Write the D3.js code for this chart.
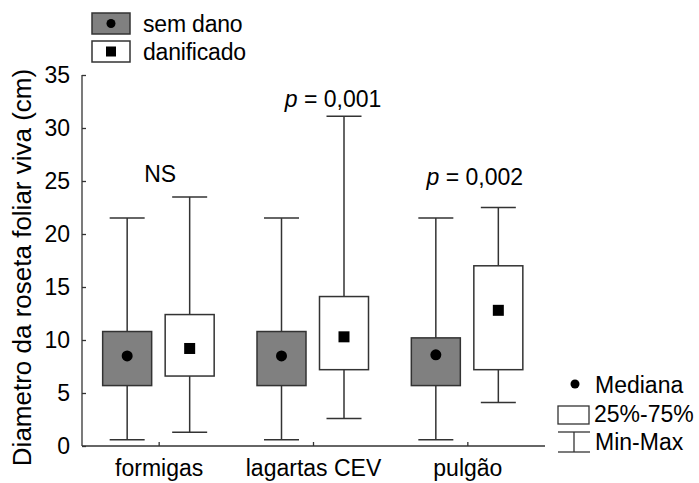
<!DOCTYPE html>
<html>
<head>
<meta charset="utf-8">
<script src="https://cdn.jsdelivr.net/npm/d3@7"></script>
<style>
  html, body { margin: 0; padding: 0; background: #fff; }
  svg { display: block; font-family: "Liberation Sans", Arial, sans-serif; }
</style>
</head>
<body>
<svg id="chart" width="699" height="483"></svg>
<script>
// Categories and groups
const categories = ["formigas", "lagartas CEV", "pulgão"];
const groups = ["sem dano", "danificado"];

// Box statistics per category: [min, q1, median, q3, max]
const semDano = [
  [0.6, 5.7, 8.5, 10.8, 21.5],
  [0.6, 5.7, 8.5, 10.8, 21.5],
  [0.6, 5.7, 8.6, 10.2, 21.5]
];
const danificado = [
  [1.3, 6.6, 9.2, 12.4, 23.5],
  [2.6, 7.2, 10.3, 14.1, 31.1],
  [4.1, 7.2, 12.8, 17.0, 22.5]
];

// Significance labels above each pair
const pValues = ["NS", "0,001", "0,002"];
const pLevels = [24.9, 32.0, 24.6];

const yTicks = [0, 5, 10, 15, 20, 25, 30, 35];

const svg = d3.select("#chart");
const margin = { left: 82, right: 154, top: 75, bottom: 37 };
const W = 699, H = 483;

const x = d3.scaleBand().domain(categories).range([margin.left, W - margin.right]);
const y = d3.scaleLinear().domain([0, 35]).range([H - margin.bottom, margin.top]);

const fontSize = 23;
const lineCol = "#333";
const center = c => x(c) + x.bandwidth() / 2;

// Axes
const yAxis = d3.axisLeft(y).tickValues(yTicks).tickSize(-4).tickPadding(12);
const gy = svg.append("g").attr("transform", `translate(${margin.left},0)`).call(yAxis);
gy.select(".domain").attr("d", `M0,${y(35)}V${y(0)}`);
const xAxis = d3.axisBottom(x).tickSize(-4).tickPadding(13.5);
const gx = svg.append("g").attr("transform", `translate(0,${y(0)})`).call(xAxis);
gx.select(".domain").attr("d", `M${margin.left},0H${W - margin.right}`);
svg.selectAll(".domain, .tick line").attr("stroke", lineCol).attr("stroke-width", 1.3);
svg.selectAll(".tick text").attr("font-size", fontSize).attr("font-family", "Liberation Sans, Arial, sans-serif").attr("fill", "#000");

// Y axis title
svg.append("text")
  .attr("transform", `translate(31,${(y(0) + y(35)) / 2 + 7}) rotate(-90)`)
  .attr("text-anchor", "middle")
  .attr("font-size", 26)
  .text("Diametro da roseta foliar viva (cm)");

// Boxes
const boxW = 49, capW = 35;
const offsets = [-32, 30.5];
const fills = ["#808080", "#fff"];
[semDano, danificado].forEach((series, gi) => {
  series.forEach((s, ci) => {
    const cx = center(categories[ci]) + offsets[gi];
    const g = svg.append("g");
    const [mn, q1, md, q3, mx] = s;
    g.append("line").attr("x1", cx).attr("x2", cx).attr("y1", y(mx)).attr("y2", y(q3))
      .attr("stroke", lineCol).attr("stroke-width", 1.5);
    g.append("line").attr("x1", cx).attr("x2", cx).attr("y1", y(q1)).attr("y2", y(mn))
      .attr("stroke", lineCol).attr("stroke-width", 1.5);
    [mn, mx].forEach(v => g.append("line")
      .attr("x1", cx - capW / 2).attr("x2", cx + capW / 2).attr("y1", y(v)).attr("y2", y(v))
      .attr("stroke", lineCol).attr("stroke-width", 1.5));
    g.append("rect").attr("x", cx - boxW / 2).attr("y", y(q3))
      .attr("width", boxW).attr("height", y(q1) - y(q3))
      .attr("fill", fills[gi]).attr("stroke", lineCol).attr("stroke-width", 1.5);
    if (gi === 0) {
      g.append("circle").attr("cx", cx).attr("cy", y(md)).attr("r", 5.5).attr("fill", "#000");
    } else {
      g.append("rect").attr("x", cx - 5.5).attr("y", y(md) - 5.5).attr("width", 11).attr("height", 11).attr("fill", "#000");
    }
  });
});

// Significance labels
const labelShift = [1, 19.5, 7];
pValues.forEach((txt, ci) => {
  const t = svg.append("text").attr("x", center(categories[ci]) + labelShift[ci]).attr("y", y(pLevels[ci]))
    .attr("text-anchor", "middle").attr("font-size", fontSize);
  if (txt !== "NS") {
    t.append("tspan").attr("font-style", "italic").text("p");
    t.append("tspan").text(" = " + txt);
  } else {
    t.text(txt);
  }
});

// Top-left legend
const legTop = svg.append("g");
groups.forEach((gname, i) => {
  const yy = 13 + i * 28;
  legTop.append("rect").attr("x", 92).attr("y", yy).attr("width", 38).attr("height", 21)
    .attr("fill", fills[i]).attr("stroke", lineCol).attr("stroke-width", 1.5);
  if (i === 0) legTop.append("circle").attr("cx", 111).attr("cy", yy + 10.5).attr("r", 4.5).attr("fill", "#000");
  else legTop.append("rect").attr("x", 106).attr("y", yy + 5.5).attr("width", 10).attr("height", 10).attr("fill", "#000");
  legTop.append("text").attr("x", 143).attr("y", yy + 19).attr("font-size", fontSize)
    .attr("letter-spacing", -0.2).text(gname);
});

// Bottom-right key
const key = svg.append("g");
key.append("circle").attr("cx", 575).attr("cy", 384).attr("r", 4.5).attr("fill", "#000");
key.append("text").attr("x", 595).attr("y", 393).attr("font-size", fontSize).text("Mediana");
key.append("rect").attr("x", 558).attr("y", 406).attr("width", 31).attr("height", 18)
  .attr("fill", "#fff").attr("stroke", lineCol).attr("stroke-width", 1.3);
key.append("text").attr("x", 594).attr("y", 422).attr("font-size", fontSize).text("25%-75%");
[432, 452].forEach(v => key.append("line").attr("x1", 558).attr("x2", 590).attr("y1", v).attr("y2", v)
  .attr("stroke", lineCol).attr("stroke-width", 1.3));
key.append("line").attr("x1", 574).attr("x2", 574).attr("y1", 432).attr("y2", 452)
  .attr("stroke", lineCol).attr("stroke-width", 1.3);
key.append("text").attr("x", 595).attr("y", 450).attr("font-size", fontSize).text("Min-Max");
</script>
</body>
</html>
